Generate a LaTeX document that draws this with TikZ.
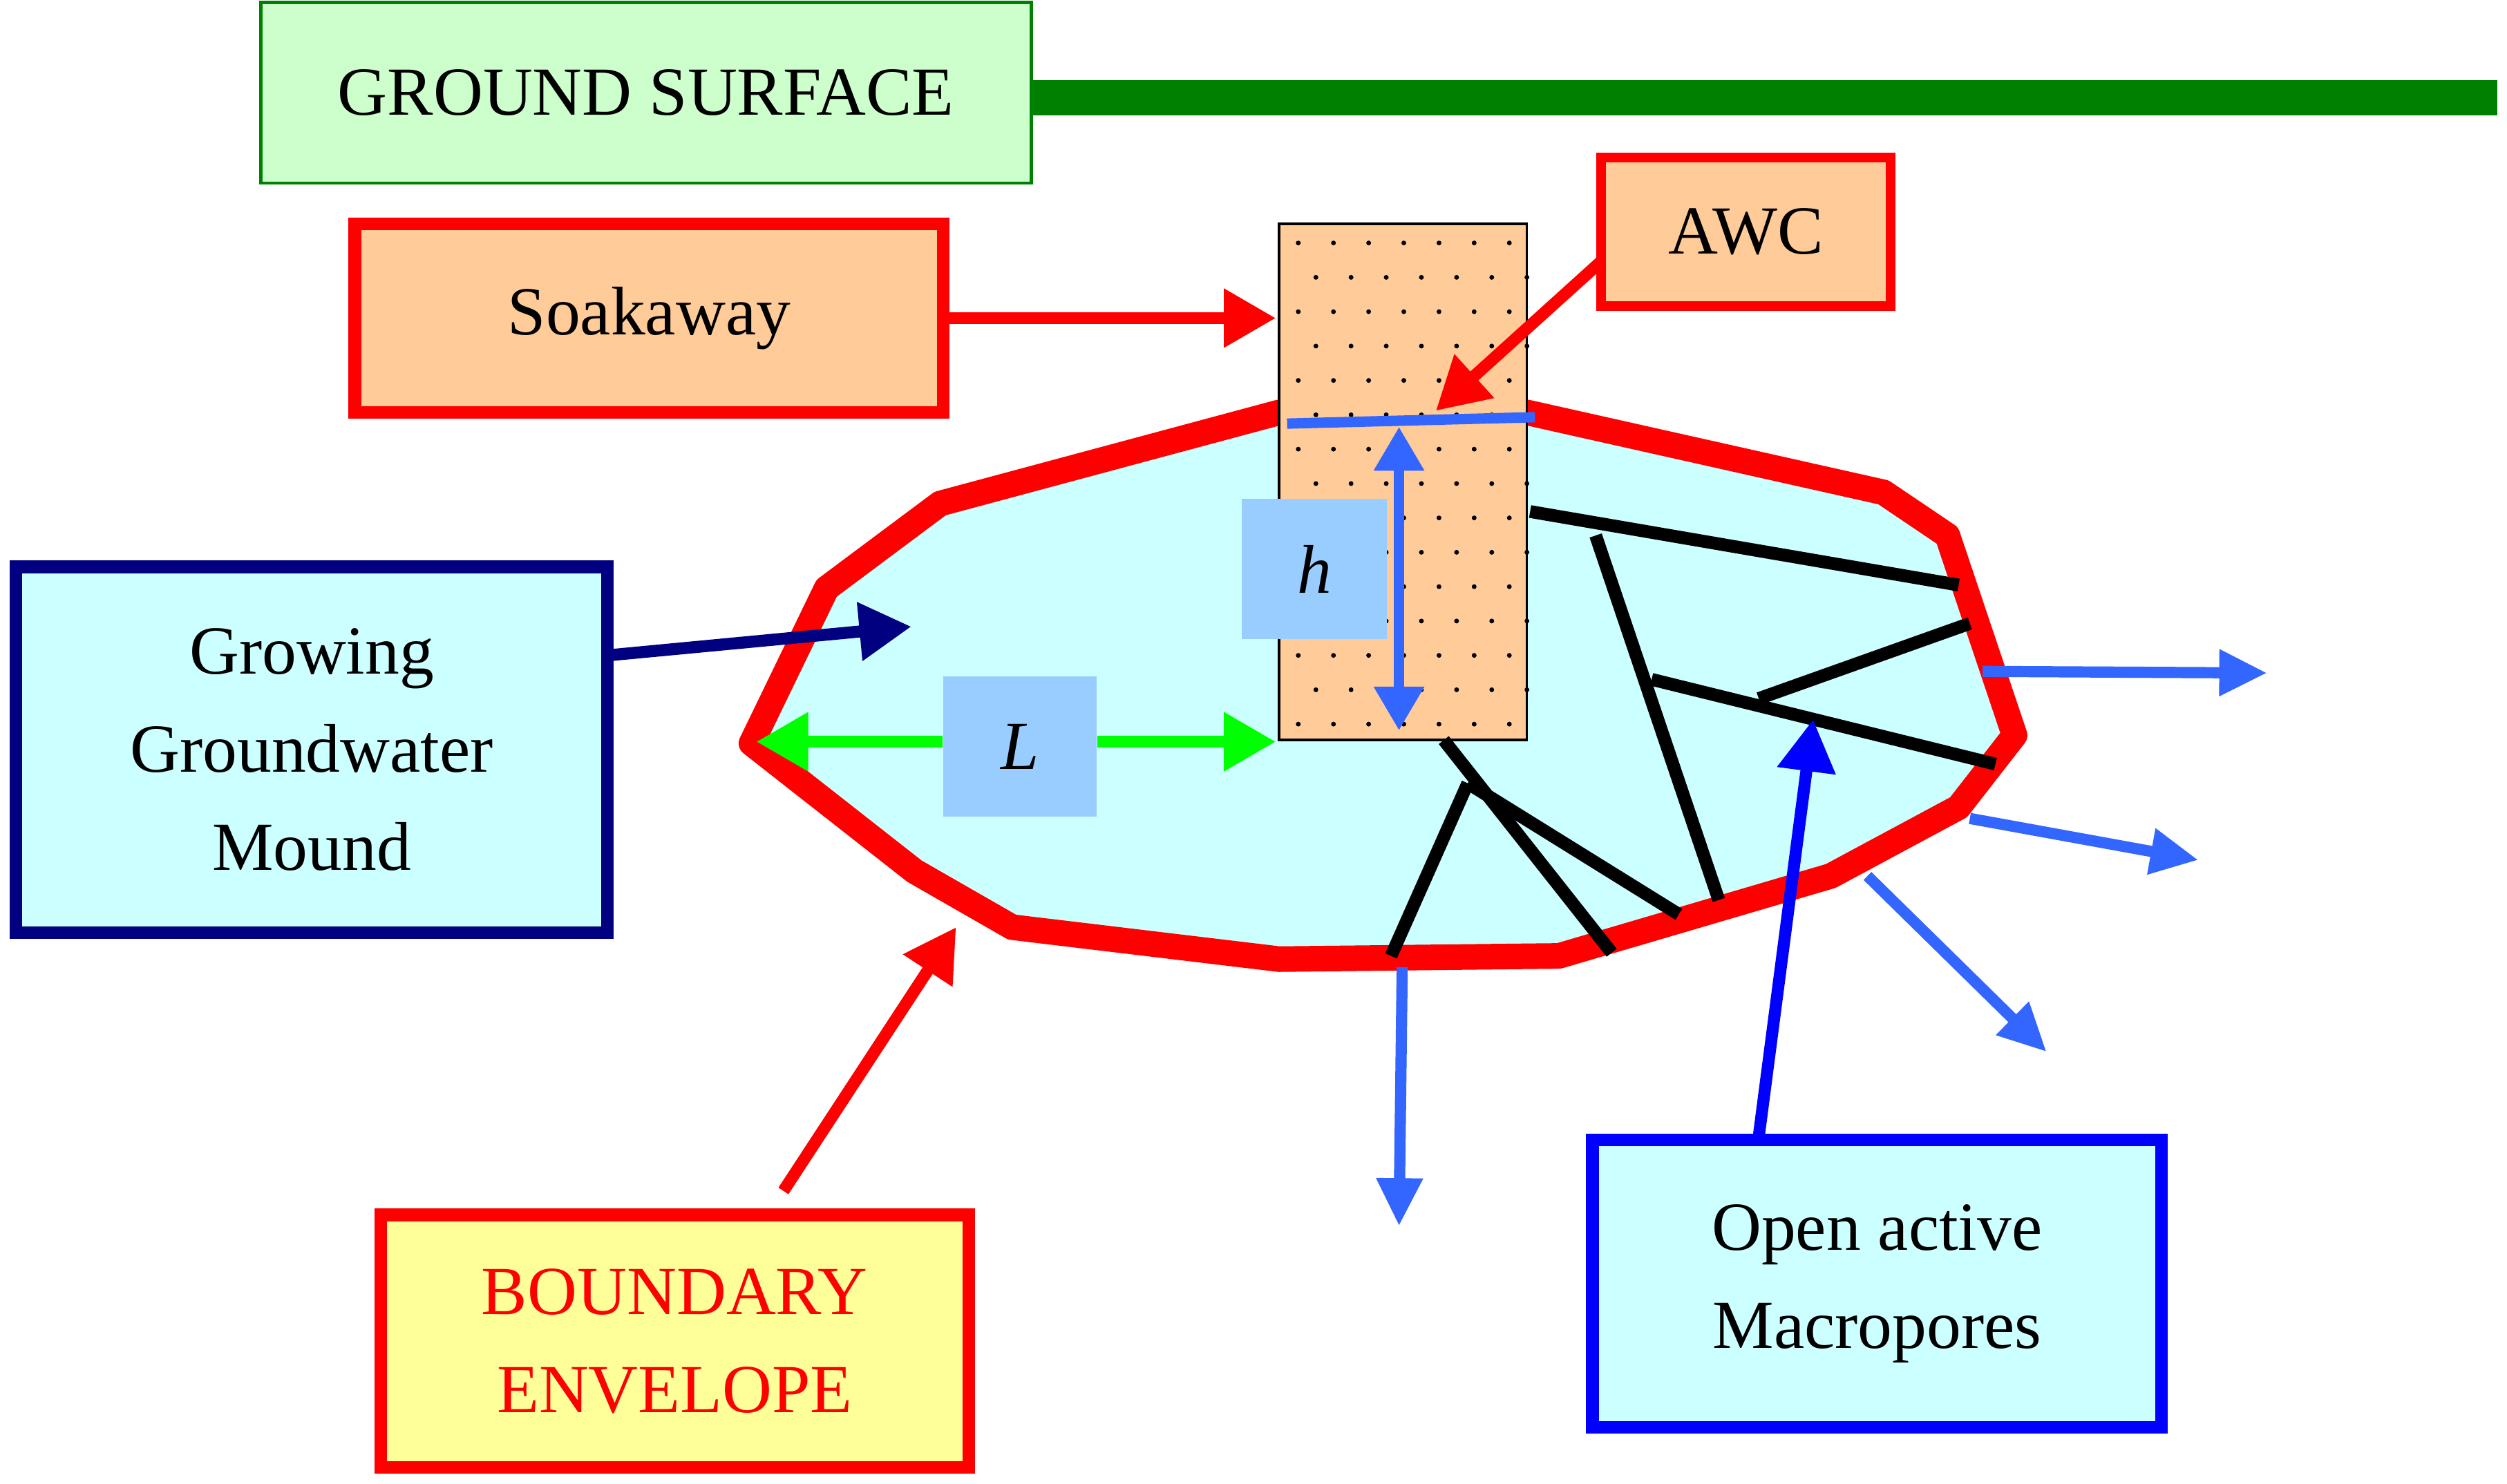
\documentclass[tikz,border=0pt]{standalone}
\usepackage{fontspec}
\setmainfont{Liberation Serif}
\usetikzlibrary{arrows.meta}
\definecolor{peach}{HTML}{FFCC99}
\definecolor{lcyan}{HTML}{CCFFFF}
\definecolor{lgreen}{HTML}{CCFFCC}
\definecolor{lblue}{HTML}{99CCFF}
\definecolor{mblue}{HTML}{3366FF}
\definecolor{dgreen}{HTML}{008000}
\definecolor{lyellow}{HTML}{FFFF99}
\definecolor{navy}{HTML}{000080}
\tikzset{
 txt/.style={font=\fontsize{24.5}{35}\selectfont, align=center},
 box/.style={draw, txt, inner sep=0pt},
 arr/.style={line width=0.15cm, -{Triangle[length=0.65cm,width=0.7cm]}},
 darr/.style={line width=0.13cm, {Triangle[length=0.55cm,width=0.6cm]}-{Triangle[length=0.55cm,width=0.6cm]}},
 pore/.style={line width=0.16cm, black},
 outf/.style={line width=0.14cm, mblue, -{Triangle[length=0.6cm,width=0.55cm]}},
}
\begin{document}
\begin{tikzpicture}[x=0.02cm,y=-0.02cm]
\useasboundingbox (0,0) rectangle (1568,928);
% ground
\draw[dgreen, line width=0.44cm] (645,61) -- (1562,61);
\node[box, draw=dgreen, fill=lgreen, line width=0.04cm, minimum width=9.64cm, minimum height=2.26cm] (gs) at (404,58) {GROUND SURFACE};
% mound
\draw[red, line width=0.32cm, line join=round, fill=lcyan] (470,465) -- (517,368) -- (588,315) -- (800,258) -- (955,258) -- (1178,308) -- (1218,335) -- (1260,460) -- (1225,505) -- (1145,548) -- (975,598) -- (800,600) -- (633,580) -- (572,545) -- cycle;
% column
\node[draw=black, fill=peach, line width=0.03cm, minimum width=3.1cm, minimum height=6.46cm, inner sep=0pt] (col) at (877.5,301.5) {};
\foreach \j in {0,...,14} {
  \pgfmathsetmacro{\yy}{152+\j*21.5}
  \pgfmathsetmacro{\off}{mod(\j,2)*11}
  \foreach \i in {0,...,6} {
    \fill (812+\off+\i*22,\yy) circle (0.03cm);
  }
}
% macropores
\draw[pore] (957,320) -- (1225,366);
\draw[pore] (998,335) -- (1075,563);
\draw[pore] (1033,425) -- (1248,478);
\draw[pore] (1100,437) -- (1232,390);
\draw[pore] (903,463) -- (1008,596);
\draw[pore] (918,490) -- (1050,572);
\draw[pore] (918,490) -- (870,598);
% outflows
\coordinate (o1) at (1240,420); \coordinate (o1e) at (1418,421);
\coordinate (o2) at (1232,512); \coordinate (o2e) at (1375,538);
\coordinate (o3) at (1168,548); \coordinate (o3e) at (1280,658);
\coordinate (o4) at (877,605); \coordinate (o4e) at (875,767);
\draw[outf] (o1) -- (o1e);
\draw[outf] (o2) -- (o2e);
\draw[outf] (o3) -- (o3e);
\draw[outf] (o4) -- (o4e);
% water level and h
\draw[mblue, line width=0.13cm] (805,265) -- (960,261);
\node[fill=lblue, minimum width=1.82cm, minimum height=1.76cm, inner sep=0pt, txt, font=\fontsize{24.5}{35}\selectfont\itshape] (h) at (822,356) {h};
\coordinate (ht) at (875,267); \coordinate (hb) at (875,457);
\draw[darr, mblue] (ht) -- (hb);
% L
\node[fill=lblue, minimum width=1.92cm, minimum height=1.76cm, inner sep=0pt, txt, font=\fontsize{24.5}{35}\selectfont\itshape] (L) at (638,467) {L};
\coordinate (Ll) at (473,464); \coordinate (Lr) at (798,464);
\draw[arr, green] (L.west|-Ll) -- (Ll);
\draw[arr, green] (L.east|-Lr) -- (Lr);
% soakaway
\node[box, draw=red, fill=peach, line width=0.16cm, minimum width=7.36cm, minimum height=2.36cm] (soak) at (406,199) {Soakaway};
\coordinate (soakt) at (798,199);
\draw[arr, red] (soak.east) -- (soakt);
% AWC
\node[box, draw=red, fill=peach, line width=0.12cm, minimum width=3.62cm, minimum height=1.86cm] (awc) at (1092,145) {AWC};
\coordinate (awct) at (898,257);
\draw[arr, red] (1002,163) -- (awct);
% growing mound
\node[box, draw=navy, fill=lcyan, line width=0.16cm, minimum width=7.4cm, minimum height=4.58cm] (gm) at (195,469) {Growing\\Groundwater\\Mound};
\coordinate (gmt) at (570,392);
\draw[arr, navy] (380,410) -- (gmt);
% macropores box
\node[box, draw=blue, fill=lcyan, line width=0.16cm, minimum width=7.12cm, minimum height=3.6cm] (mp) at (1174,803) {Open active\\Macropores};
\coordinate (mpt) at (1134,450);
\draw[arr, blue] (1100,711) -- (mpt);
% boundary
\node[box, draw=red, fill=lyellow, text=red, line width=0.16cm, minimum width=7.36cm, minimum height=3.16cm] (be) at (422,839) {BOUNDARY\\ENVELOPE};
\coordinate (bes) at (490,745); \coordinate (bet) at (598,580);
\draw[arr, red] (bes) -- (bet);
\end{tikzpicture}
\end{document}
